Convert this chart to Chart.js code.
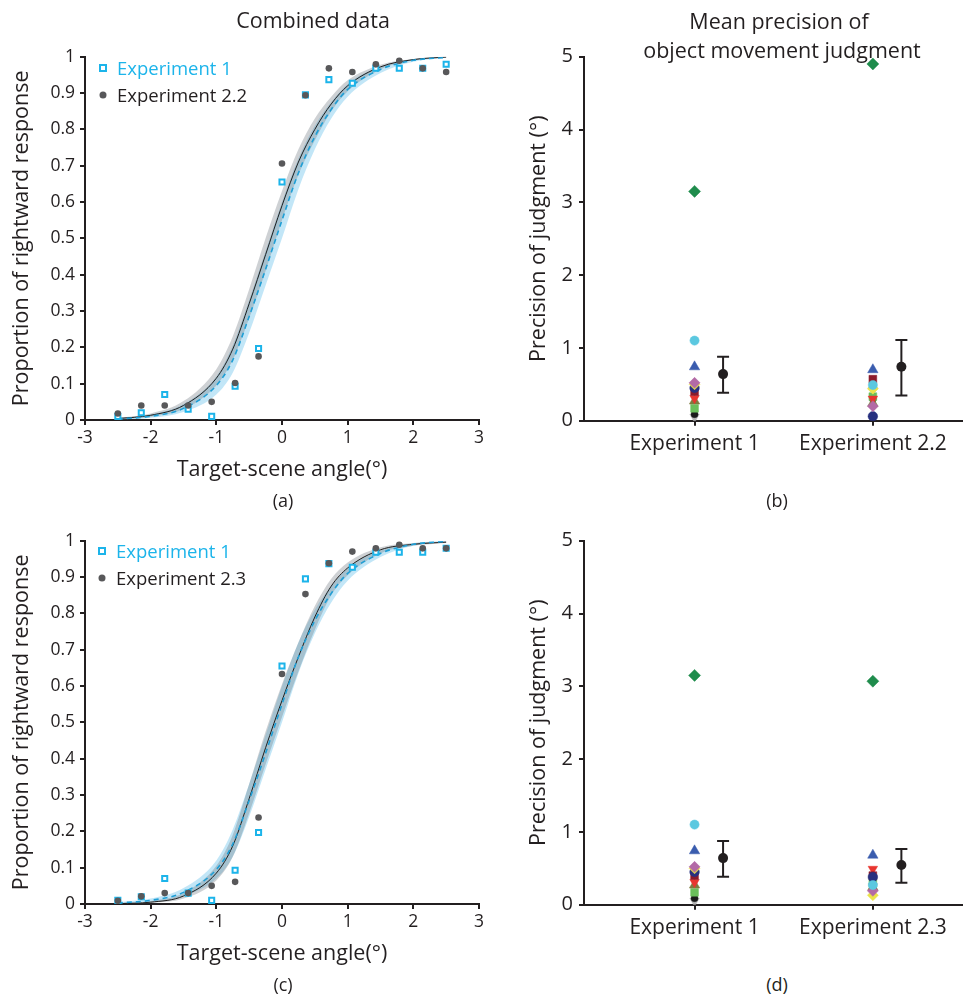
<!DOCTYPE html>
<html><head><meta charset="utf-8">
<script src="https://cdn.jsdelivr.net/npm/chart.js@4/dist/chart.umd.min.js"></script>
<style>
body{margin:0;background:#fff;width:970px;height:996px;position:relative;overflow:hidden;font-family:'Open Sans',sans-serif;color:#231f20}
.c{position:absolute}
.t{position:absolute;white-space:nowrap;transform:translate(-50%,-50%);font-size:21.5px;line-height:1}
.lab{font-size:18px}
.leg{position:absolute;white-space:nowrap;font-size:18.5px;line-height:1;transform:translateY(-50%)}
.sq{position:absolute;width:4px;height:4px;border:2px solid #1cb4ea;background:#fff;transform:translate(-50%,-50%)}
.dot{position:absolute;width:7px;height:7px;border-radius:50%;background:#58585a;transform:translate(-50%,-50%)}
</style></head><body>
<div class="c" style="left:0;top:0;width:500px;height:484px"><canvas id="ca"></canvas></div>
<div class="c" style="left:500px;top:0;width:470px;height:484px"><canvas id="cb"></canvas></div>
<div class="c" style="left:0;top:484px;width:500px;height:484px"><canvas id="cc"></canvas></div>
<div class="c" style="left:500px;top:484px;width:470px;height:484px"><canvas id="cd"></canvas></div>

<div class="t" style="left:313px;top:20px">Combined data</div>
<div class="t" style="left:779px;top:21px">Mean precision of</div>
<div class="t" style="left:782px;top:50px">object movement judgment</div>
<div class="t lab" style="left:283px;top:500px">(a)</div>
<div class="t lab" style="left:777px;top:500px">(b)</div>
<div class="t lab" style="left:283px;top:984px">(c)</div>
<div class="t lab" style="left:777px;top:984px">(d)</div>

<div class="sq" style="left:103px;top:68px"></div>
<div class="leg" style="left:117px;top:68px;color:#1cb4ea">Experiment 1</div>
<div class="dot" style="left:103px;top:95px"></div>
<div class="leg" style="left:117px;top:95px">Experiment 2.2</div>
<div class="sq" style="left:102px;top:551px"></div>
<div class="leg" style="left:116px;top:551px;color:#1cb4ea">Experiment 1</div>
<div class="dot" style="left:102px;top:578px"></div>
<div class="leg" style="left:116px;top:578px">Experiment 2.3</div>

<script>
// ---------- data ----------
const angleX = [-2.5, -2.143, -1.786, -1.429, -1.071, -0.714, -0.357, 0, 0.357, 0.714, 1.071, 1.429, 1.786, 2.143, 2.5];
const exp1Prop  = [0.01, 0.02, 0.07, 0.03, 0.01, 0.093, 0.197, 0.655, 0.895, 0.937, 0.927, 0.968, 0.968, 0.968, 0.979];
const exp22Prop = [0.018, 0.04, 0.04, 0.04, 0.05, 0.102, 0.175, 0.706, 0.894, 0.968, 0.958, 0.979, 0.989, 0.968, 0.958];
const exp23Prop = [0.009, 0.021, 0.03, 0.03, 0.05, 0.061, 0.238, 0.633, 0.853, 0.938, 0.97, 0.979, 0.989, 0.979, 0.979];

const curveX = [-2.5, -2, -1.5, -1, -0.75, -0.5, -0.25, 0, 0.25, 0.5, 0.75, 1, 1.5, 2, 2.5];
const fitExp1      = [0.003, 0.010, 0.032, 0.095, 0.165, 0.285, 0.415, 0.55, 0.68, 0.78, 0.855, 0.91, 0.965, 0.99, 0.998];
const bandExp1High = [0.005, 0.015, 0.044, 0.12, 0.205, 0.33, 0.465, 0.60, 0.72, 0.81, 0.875, 0.925, 0.973, 0.993, 0.999];
const bandExp1Low  = [0.001, 0.006, 0.022, 0.07, 0.13, 0.24, 0.37, 0.50, 0.635, 0.745, 0.83, 0.89, 0.955, 0.986, 0.997];
const fitExp22      = [0.004, 0.013, 0.04, 0.115, 0.195, 0.32, 0.455, 0.59, 0.71, 0.80, 0.87, 0.92, 0.972, 0.992, 0.999];
const bandExp22High = [0.006, 0.018, 0.052, 0.14, 0.23, 0.36, 0.50, 0.63, 0.745, 0.83, 0.89, 0.935, 0.978, 0.994, 0.999];
const bandExp22Low  = [0.002, 0.009, 0.03, 0.095, 0.165, 0.28, 0.41, 0.55, 0.675, 0.77, 0.85, 0.905, 0.965, 0.99, 0.998];
const fitExp23      = [0.001, 0.005, 0.022, 0.085, 0.16, 0.29, 0.43, 0.56, 0.68, 0.79, 0.875, 0.925, 0.975, 0.99, 0.996];
const bandExp23High = [0.002, 0.008, 0.03, 0.105, 0.19, 0.33, 0.475, 0.605, 0.72, 0.82, 0.895, 0.94, 0.982, 0.994, 0.998];
const bandExp23Low  = [0.0005, 0.003, 0.015, 0.065, 0.13, 0.25, 0.385, 0.515, 0.64, 0.755, 0.85, 0.905, 0.965, 0.986, 0.994];

const angleTickLabels = ['-3', '-2', '-1', '0', '1', '2', '3'];
const propTickLabels = ['0', '0.1', '0.2', '0.3', '0.4', '0.5', '0.6', '0.7', '0.8', '0.9', '1'];
const precTickLabels = ['0', '1', '2', '3', '4', '5'];
const categoriesB = ['Experiment 1', 'Experiment 2.2'];
const categoriesD = ['Experiment 1', 'Experiment 2.3'];

// per-participant precision (deg)
const precExp1  = [3.15, 1.10, 0.74, 0.52, 0.50, 0.45, 0.40, 0.31, 0.27, 0.17, 0.09, 0.05];
const precExp22 = [4.90, 0.49, 0.70, 0.20, 0.44, 0.06, 0.57, 0.30, 0.24, 0.33, 0.30, 0.42];
const precExp23 = [3.07, 0.27, 0.68, 0.19, 0.13, 0.38, 0.40, 0.49, 0.24, 0.30, 0.22, 0.25];
const meanB = [0.64, 0.74], lowB = [0.385, 0.345], highB = [0.88, 1.11];
const meanD = [0.64, 0.545], lowD = [0.385, 0.30], highD = [0.875, 0.765];

// ---------- styles ----------
const partColors = ['#1f8c4c','#5bc8e0','#3a5cae','#b36aa6','#ece34a','#27307f','#8c1b2b','#e8352f','#7d7b3e','#6bbf5b','#1a1a1a','#b5b5b5'];
const partShapes = ['rectRot','circle','triangle','rectRot','rectRot','circle','rect','triangle','triangle','rect','circle','triangle'];
const partRot    = [0,0,0,0,0,0,0,180,0,0,0,180];
const partRadius = [6,4.6,6,5.5,5.5,4.8,5.5,5.5,6,5.5,3.5,5.5];
const INK = '#231f20';
const CYAN = '#1cb4ea';
const MEAN_OFFSET = 0.16;

Chart.defaults.font.family = "'Open Sans', sans-serif";
Chart.defaults.color = INK;

const pts = (xs, ys) => xs.map((x, i) => ({x: x, y: ys[i]}));

function axisCommon() {
  return {
    grid: {drawOnChartArea: false, drawTicks: true, tickLength: 5, color: INK, lineWidth: 2},
    border: {display: true, color: INK, width: 2}
  };
}

function makePsy(id, otherProp, otherFit, otherLow, otherHigh) {
  new Chart(document.getElementById(id), {
    type: 'line',
    data: {datasets: [
      {data: pts(curveX, bandExp1Low), borderWidth: 0, pointRadius: 0, fill: false, cubicInterpolationMode: 'monotone', order: 6},
      {data: pts(curveX, bandExp1High), borderWidth: 0, pointRadius: 0, fill: 0, backgroundColor: 'rgba(110,195,235,0.42)', cubicInterpolationMode: 'monotone', order: 5},
      {data: pts(curveX, otherLow), borderWidth: 0, pointRadius: 0, fill: false, cubicInterpolationMode: 'monotone', order: 4},
      {data: pts(curveX, otherHigh), borderWidth: 0, pointRadius: 0, fill: 2, backgroundColor: 'rgba(105,115,125,0.33)', cubicInterpolationMode: 'monotone', order: 3},
      {data: pts(curveX, fitExp1), borderColor: '#1f9fd6', borderWidth: 1.6, borderDash: [5, 4], pointRadius: 0, fill: false, cubicInterpolationMode: 'monotone', order: 2},
      {data: pts(curveX, otherFit), borderColor: '#1e1e1e', borderWidth: 1, pointRadius: 0, fill: false, cubicInterpolationMode: 'monotone', order: 2},
      {data: pts(angleX, exp1Prop), showLine: false, pointStyle: 'rect', pointRadius: 3.6, pointBorderWidth: 2, pointBorderColor: CYAN, pointBackgroundColor: '#fff', order: 1},
      {data: pts(angleX, otherProp), showLine: false, pointStyle: 'circle', pointRadius: 3.3, pointBorderWidth: 0, pointBackgroundColor: '#58585a', order: 0}
    ]},
    options: {
      responsive: true, maintainAspectRatio: false, animation: false,
      layout: {padding: {top: 56.7, right: 21, left: 0, bottom: 0}},
      plugins: {legend: {display: false}, tooltip: {enabled: false}},
      scales: {
        x: Object.assign(axisCommon(), {
          type: 'linear', min: -3, max: 3,
          ticks: {stepSize: 1, autoSkip: false, maxRotation: 0, padding: 3, font: {size: 17.5}, callback: (v, i) => angleTickLabels[i]},
          title: {display: true, text: 'Target-scene angle(°)', font: {size: 21.5}, padding: {top: 0, bottom: 1}},
          afterFit: s => { s.height = 64; }
        }),
        y: Object.assign(axisCommon(), {
          type: 'linear', min: 0, max: 1,
          ticks: {stepSize: 0.1, autoSkip: false, padding: 5, font: {size: 17.5}, callback: (v, i) => propTickLabels[i]},
          title: {display: true, text: 'Proportion of rightward response', font: {size: 21.5}, padding: {top: 9, bottom: 0}},
          afterFit: s => { s.width = 85; }
        })
      }
    }
  });
}

function makePrec(id, cats, e1, e2, mean, low, high) {
  const ds = [];
  for (let i = 0; i < e1.length; i++) {
    ds.push({data: [{x: 1, y: e1[i]}, {x: 2, y: e2[i]}], showLine: false,
      pointStyle: partShapes[i], pointRotation: partRot[i], pointRadius: partRadius[i],
      pointBackgroundColor: partColors[i], pointBorderColor: partColors[i], pointBorderWidth: 0.5,
      order: 10 + i});
  }
  for (let k = 0; k < 2; k++) {
    ds.push({data: [{x: k + 1 + MEAN_OFFSET, y: low[k]}, {x: k + 1 + MEAN_OFFSET, y: high[k]}],
      showLine: true, borderColor: INK, borderWidth: 2, pointStyle: 'line', pointRadius: 6,
      pointBorderWidth: 2, pointBorderColor: INK, fill: false, order: 1});
  }
  ds.push({data: [{x: 1 + MEAN_OFFSET, y: mean[0]}, {x: 2 + MEAN_OFFSET, y: mean[1]}], showLine: false,
    pointStyle: 'circle', pointRadius: 5, pointBackgroundColor: INK, pointBorderColor: INK, pointBorderWidth: 0, order: 0});

  new Chart(document.getElementById(id), {
    type: 'line',
    data: {datasets: ds},
    options: {
      responsive: true, maintainAspectRatio: false, animation: false,
      layout: {padding: {top: 56.7, right: 0, left: 0, bottom: 0}},
      plugins: {legend: {display: false}, tooltip: {enabled: false}},
      scales: {
        x: Object.assign(axisCommon(), {
          type: 'linear', min: 0.38, max: 2.5,
          afterBuildTicks: s => { s.ticks = [{value: 1}, {value: 2}]; },
          ticks: {autoSkip: false, maxRotation: 0, padding: 6, font: {size: 21}, callback: (v, i) => cats[i]},
          afterFit: s => { s.height = 63.3; }
        }),
        y: Object.assign(axisCommon(), {
          type: 'linear', min: 0, max: 5,
          ticks: {stepSize: 1, autoSkip: false, padding: 6, font: {size: 20}, callback: (v, i) => precTickLabels[i]},
          title: {display: true, text: 'Precision of judgment (°)', font: {size: 21.5}, padding: {top: 26, bottom: 0}},
          afterFit: s => { s.width = 84; }
        })
      }
    }
  });
}

makePsy('ca', exp22Prop, fitExp22, bandExp22Low, bandExp22High);
makePsy('cc', exp23Prop, fitExp23, bandExp23Low, bandExp23High);
makePrec('cb', categoriesB, precExp1, precExp22, meanB, lowB, highB);
makePrec('cd', categoriesD, precExp1, precExp23, meanD, lowD, highD);
</script>
</body></html>
